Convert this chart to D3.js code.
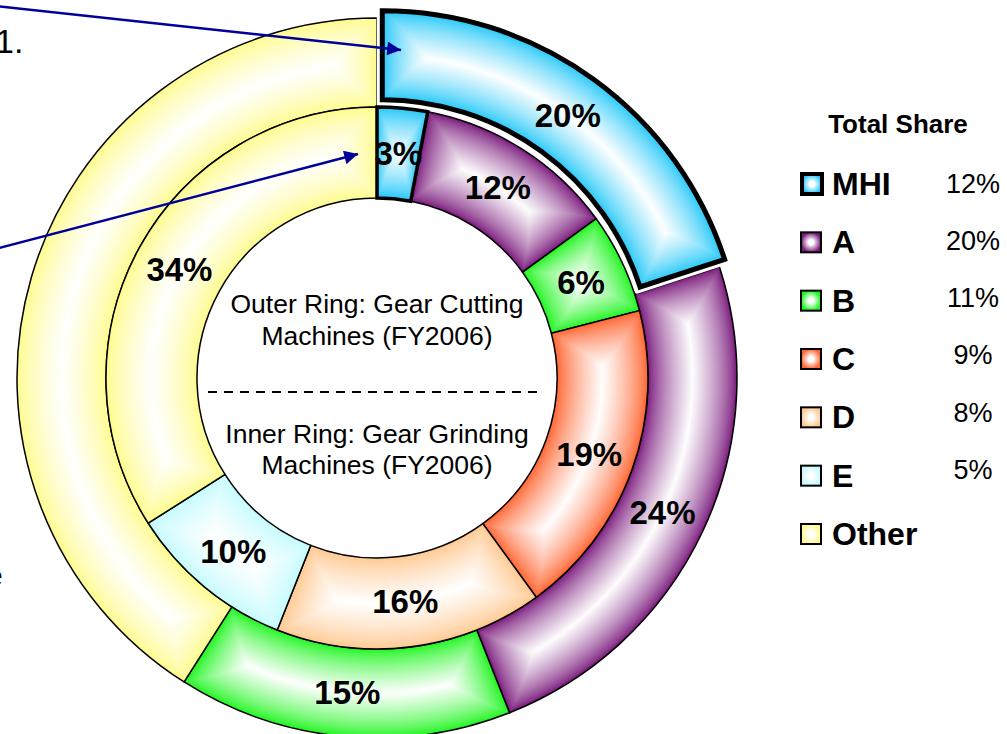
<!DOCTYPE html>
<html>
<head>
<meta charset="utf-8">
<script src="https://cdn.jsdelivr.net/npm/d3@7"></script>
<style>
  body { margin: 0; background: #fff; }
  svg { display: block; }
  text { font-family: "Liberation Sans", Arial, sans-serif; fill: #000; }
</style>
</head>
<body>
<div id="chart"></div>
<script>
// data
const outerNames = ["MHI", "A", "B", "Other"];
const outerValues = [20, 24, 15, 41];
const outerShowLabel = [true, true, true, false];

const innerNames = ["MHI", "A", "B", "C", "D", "E", "Other"];
const innerValues = [3, 12, 6, 19, 16, 10, 34];

const legendNames = ["MHI", "A", "B", "C", "D", "E", "Other"];
const totalShare = ["12%", "20%", "11%", "9%", "8%", "5%", ""];

const centerLines = ["Outer Ring: Gear Cutting", "Machines (FY2006)",
                     "Inner Ring: Gear Grinding", "Machines (FY2006)"];

const colors = {
  MHI: "#1ec6f8", A: "#7a1a7c", B: "#1ff51f", C: "#ff6530",
  D: "#ffc890", E: "#c4fbff", Other: "#fffb8c"
};

const width = 1007, height = 734;
const cx = 377, cy = 378;
const rHole = 180, rMid = 271, rOut = 360;
const explode = 9;

const svg = d3.select("#chart").append("svg")
  .attr("width", width).attr("height", height);
const defs = svg.append("defs");

defs.append("marker")
  .attr("id", "arrow")
  .attr("viewBox", "0 0 10 10")
  .attr("refX", 10).attr("refY", 5)
  .attr("markerWidth", 7).attr("markerHeight", 5.5)
  .attr("markerUnits", "strokeWidth")
  .attr("orient", "auto")
  .append("path").attr("d", "M0,0 L10,5 L0,10 Z").attr("fill", "#000099");

const pie = d3.pie().sort(null).value(d => d.value);

// shaded slice: nested inset arcs going from the colour at the rim to white in the middle
function shadedSlice(g, d, r0, r1, color) {
  const b = (r1 - r0) / 2, rm = (r0 + r1) / 2;
  const span = d.endAngle - d.startAngle;
  const maxAng = Math.min(b / rm, span / 2 * 0.92);
  const mix = d3.interpolateRgb(color, "#ffffff");
  const N = 40;
  for (let j = 0; j < N; j++) {
    const t = j / N;
    const k = b * t;
    const ang = maxAng * t;
    g.append("path")
      .attr("d", d3.arc()({
        innerRadius: r0 + k, outerRadius: r1 - k,
        startAngle: d.startAngle + ang, endAngle: d.endAngle - ang
      }))
      .attr("fill", mix(Math.pow(t, 0.75)));
  }
}

const chart = svg.append("g").attr("transform", `translate(${cx},${cy})`);

function drawRing(names, values, r0, r1, prefix, showLabel) {
  const data = pie(names.map((n, i) => ({ name: n, value: values[i] })));
  const arc = d3.arc().innerRadius(r0).outerRadius(r1);
  const g = chart.append("g");

  data.forEach(d => {
    const mid = (d.startAngle + d.endAngle) / 2;
    d.off = (d.data.name === "MHI" && prefix === "o")
      ? [Math.sin(mid) * explode, -Math.cos(mid) * explode] : [0, 0];
  });

  // normal slices first, MHI on top because of its heavy border
  const order = data.filter(d => d.data.name !== "MHI")
    .concat(data.filter(d => d.data.name === "MHI"));

  order.forEach(d => {
    const isMHI = d.data.name === "MHI";
    const sg = g.append("g").attr("transform", `translate(${d.off[0]},${d.off[1]})`);
    if (isMHI && prefix === "o") {
      sg.append("path").attr("d", arc(d))
        .attr("fill", "#fff").attr("stroke", "#fff").attr("stroke-width", 11);
    }
    shadedSlice(sg, d, r0, r1, colors[d.data.name]);
    sg.append("path")
      .attr("d", arc(d))
      .attr("fill", "none")
      .attr("stroke", "#000")
      .attr("stroke-linejoin", "miter")
      .attr("stroke-width", isMHI ? (prefix === "o" ? 5 : 3.5) : 1.5);
  });

  const lg = g.append("g");
  data.forEach((d, i) => {
    if (showLabel && !showLabel[i]) return;
    const c = arc.centroid(d);
    lg.append("text")
      .attr("x", c[0] + d.off[0])
      .attr("y", c[1] + d.off[1])
      .attr("text-anchor", "middle")
      .attr("dominant-baseline", "central")
      .attr("font-size", 33)
      .attr("font-weight", "bold")
      .text(d.data.value + "%");
  });
}

drawRing(outerNames, outerValues, rMid, rOut, "o", outerShowLabel);
drawRing(innerNames, innerValues, rHole, rMid, "i", null);

// centre text
const ct = chart.append("g");
const lineY = [-65, -33, 65, 96];
centerLines.forEach((t, i) => {
  ct.append("text")
    .attr("x", 0).attr("y", lineY[i])
    .attr("text-anchor", "middle")
    .attr("font-size", 26.5)
    .text(t);
});
ct.append("line")
  .attr("x1", -169).attr("x2", 160)
  .attr("y1", 14).attr("y2", 14)
  .attr("stroke", "#000").attr("stroke-width", 2)
  .attr("stroke-dasharray", "9,7");

// legend
const legend = svg.append("g").attr("transform", "translate(800,0)");
legend.append("text")
  .attr("x", 98).attr("y", 133)
  .attr("text-anchor", "middle")
  .attr("font-size", 26).attr("font-weight", "bold")
  .text("Total Share");

const rowY = d3.scalePoint().domain(legendNames).range([195, 545]);
legendNames.forEach((n, i) => {
  const y = rowY(n);
  const lgId = "lg" + i;
  const grad = defs.append("radialGradient").attr("id", lgId);
  grad.append("stop").attr("offset", "0%").attr("stop-color", "#fff");
  grad.append("stop").attr("offset", "25%").attr("stop-color", "#fff");
  grad.append("stop").attr("offset", "100%").attr("stop-color", colors[n]);
  const isMHI = n === "MHI";
  legend.append("rect")
    .attr("x", isMHI ? 2 : 1).attr("y", y - 21)
    .attr("width", 20).attr("height", 20)
    .attr("fill", `url(#${lgId})`)
    .attr("stroke", "#000")
    .attr("stroke-width", isMHI ? 4 : 2);
  legend.append("text")
    .attr("x", 32).attr("y", y)
    .attr("font-size", 32).attr("font-weight", "bold")
    .text(n);
  if (totalShare[i]) {
    legend.append("text")
      .attr("x", 173).attr("y", y - 2 - i * 1.2)
      .attr("text-anchor", "middle")
      .attr("font-size", 27)
      .text(totalShare[i]);
  }
});

// pointer arrows and the slide text cut off at the left edge
svg.append("line")
  .attr("x1", -5).attr("y1", 6).attr("x2", 401).attr("y2", 50)
  .attr("stroke", "#000099").attr("stroke-width", 2.5)
  .attr("marker-end", "url(#arrow)");
svg.append("line")
  .attr("x1", -5).attr("y1", 249).attr("x2", 358).attr("y2", 154)
  .attr("stroke", "#000099").attr("stroke-width", 2.5)
  .attr("marker-end", "url(#arrow)");

svg.append("text").attr("x", -5).attr("y", 53)
  .attr("font-size", 34).text("1.");
svg.append("text").attr("x", -14).attr("y", 586)
  .attr("font-size", 30).text("e");
</script>
</body>
</html>
